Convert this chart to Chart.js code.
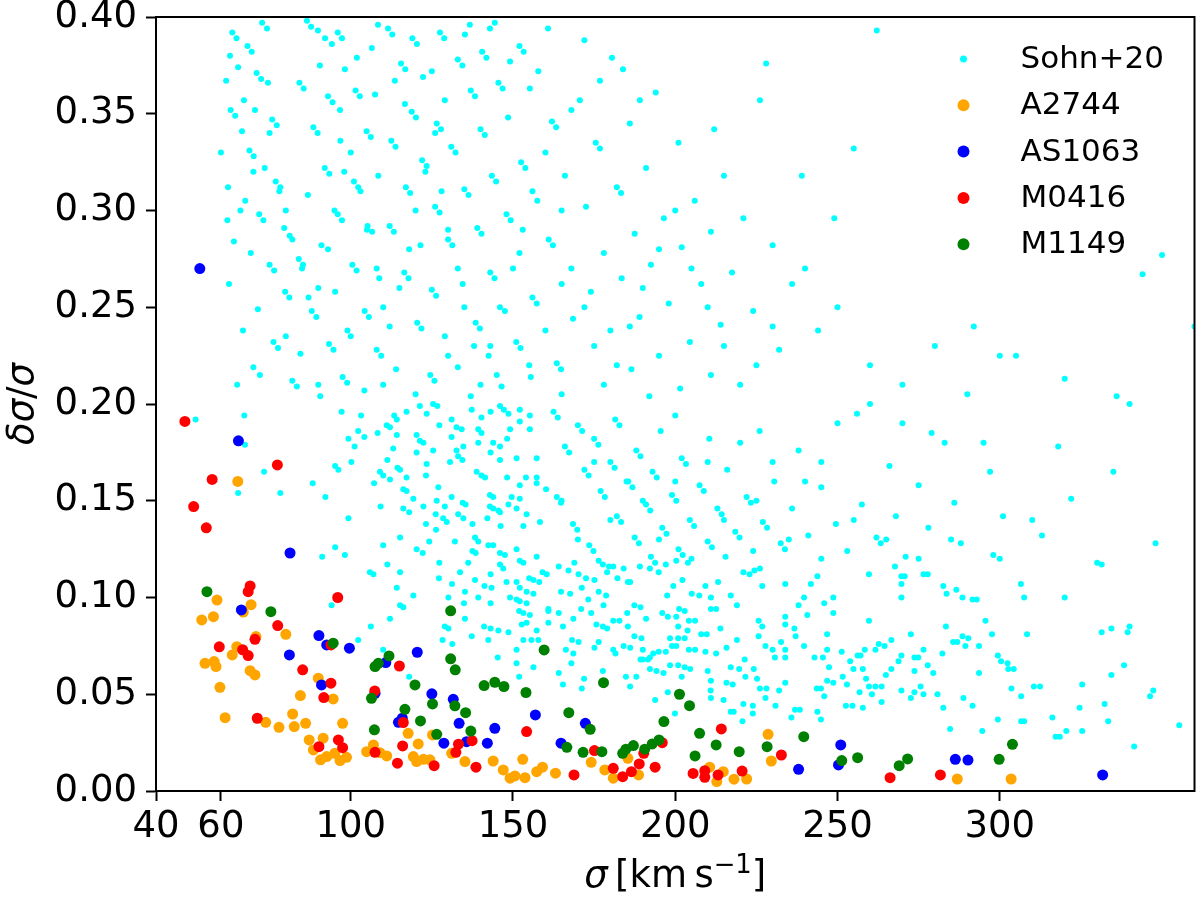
<!DOCTYPE html>
<html>
<head>
<meta charset="utf-8">
<script src="https://cdn.jsdelivr.net/npm/chart.js@4.4.1/dist/chart.umd.min.js"></script>
<style>
  html, body { margin: 0; padding: 0; background: #fff; }
  #wrap { width: 1200px; height: 901px; }
</style>
</head>
<body>
<div id="wrap"><canvas id="chart" width="1200" height="901"></canvas></div>
<script>
// x tick labels and axis range
const xTicks = [40, 60, 100, 150, 200, 250, 300];
const xRange = [40, 360];
const yRange = [0, 0.4];

// [sigma, dsigma/sigma]
const sohn20 = [
  [52.2,0.192],[67.2,0.194],[67.4,0.179],[97.2,0.196],[103.2,0.194],[108.3,0.185],[102.3,0.186],[99.3,0.182],
  [101.2,0.178],[104.2,0.183],[111.1,0.189],[113.4,0.194],[114.2,0.192],[112.1,0.188],[117.2,0.196],[121.3,0.199],
  [123.4,0.195],[125.4,0.200],[126.7,0.199],[127.3,0.189],[131.1,0.192],[132.6,0.188],[134.2,0.187],[137.3,0.197],
  [140.3,0.193],[143.1,0.196],[146.0,0.199],[147.2,0.197],[148.6,0.195],[152.1,0.197],[155.2,0.194],[152.1,0.191],
  [139.3,0.187],[140.3,0.185],[114.2,0.184],[120.3,0.184],[121.3,0.181],[122.4,0.180],[125.4,0.176],[120.3,0.175],
  [113.1,0.177],[111.3,0.171],[109.0,0.165],[110.0,0.163],[112.1,0.161],[114.4,0.167],[115.2,0.166],[117.2,0.162],
  [123.4,0.169],[131.1,0.183],[132.6,0.176],[134.7,0.178],[130.6,0.170],[133.1,0.173],[134.4,0.171],[139.3,0.180],
  [143.9,0.180],[146.0,0.178],[148.2,0.182],[149.1,0.187],[155.2,0.187],[143.1,0.175],[146.0,0.171],[151.1,0.172],
  [157.3,0.172],[95.2,0.168],[96.2,0.166],[100.2,0.170],[107.2,0.159],[116.2,0.156],[117.2,0.155],[119.3,0.151],
  [73.3,0.165],[78.3,0.154],[65.3,0.154],[88.3,0.159],[92.2,0.152],[99.3,0.141],[109.2,0.147],[116.2,0.146],
  [118.0,0.144],[122.4,0.147],[126.5,0.150],[129.0,0.147],[131.1,0.152],[123.2,0.163],[127.0,0.157],[134.5,0.149],
  [135.4,0.148],[138.8,0.165],[140.3,0.163],[141.4,0.162],[148.2,0.162],[152.1,0.158],[154.0,0.162],[157.3,0.162],
  [160.2,0.156],[157.3,0.159],[142.9,0.153],[143.9,0.152],[149.6,0.152],[152.1,0.151],[148.6,0.148],[151.1,0.146],
  [154.2,0.143],[142.9,0.147],[143.9,0.146],[145.5,0.145],[146.0,0.144],[126.2,0.143],[128.5,0.141],[129.6,0.139],
  [133.1,0.143],[134.7,0.141],[123.2,0.138],[126.3,0.135],[137.5,0.138],[142.1,0.141],[146.2,0.137],[153.2,0.137],
  [158.3,0.139],[115.2,0.131],[120.3,0.125],[122.2,0.123],[124.2,0.129],[132.1,0.129],[138.3,0.131],[139.3,0.129],
  [142.4,0.127],[110.0,0.127],[95.2,0.126],[98.2,0.122],[91.2,0.121],[105.9,0.113],[107.0,0.112],[111.3,0.117],
  [115.2,0.113],[114.2,0.105],[119.3,0.101],[137.5,0.124],[138.5,0.123],[143.9,0.127],[146.0,0.123],[147.5,0.122],
  [151.1,0.125],[152.1,0.119],[153.2,0.118],[136.2,0.118],[146.0,0.117],[147.0,0.115],[143.1,0.112],[148.0,0.108],
  [151.1,0.108],[127.3,0.118],[127.2,0.110],[131.2,0.107],[133.7,0.113],[135.2,0.103],[138.3,0.109],[141.2,0.106],
  [143.4,0.105],[155.0,0.110],[156.3,0.109],[158.1,0.108],[159.1,0.113],[160.4,0.112],[157.3,0.121],[152.1,0.105],
  [154.2,0.103],[156.3,0.102],[115.2,0.096],[116.2,0.095],[112.1,0.089],[106.2,0.085],[102.3,0.078],[94.1,0.096],
  [130.1,0.100],[134.9,0.097],[135.2,0.089],[139.3,0.100],[143.1,0.097],[149.1,0.100],[151.1,0.099],[152.1,0.098],
  [154.2,0.097],[160.9,0.093],[151.9,0.093],[153.2,0.092],[155.2,0.091],[129.0,0.085],[130.1,0.084],[128.3,0.078],
  [131.3,0.076],[137.3,0.080],[141.1,0.085],[143.1,0.084],[145.5,0.083],[148.6,0.082],[142.4,0.078],[152.7,0.086],
  [154.2,0.087],[157.3,0.083],[160.9,0.087],[153.2,0.078],[155.7,0.078],[157.8,0.078],[151.1,0.073],[145.3,0.069],
  [151.1,0.066],[156.3,0.064],[110.0,0.073],[118.0,0.059],[151.9,0.059],
  [164.1,0.116],[167.1,0.114],[168.9,0.118],[170.2,0.112],[172.5,0.110],[175.1,0.109],[176.4,0.119],[177.7,0.117],
  [179.6,0.116],[180.9,0.116],[179.0,0.113],[182.2,0.110],[184.1,0.115],[185.4,0.108],[186.1,0.108],[189.1,0.116],
  [192.2,0.115],[193.8,0.118],[194.9,0.113],[197.1,0.117],[200.3,0.119],[203.9,0.118],[164.8,0.103],[167.6,0.102],
  [171.2,0.105],[173.2,0.099],[176.4,0.103],[178.7,0.101],[171.0,0.094],[174.1,0.092],[177.9,0.096],[180.9,0.088],
  [182.8,0.088],[185.2,0.092],[187.4,0.096],[189.3,0.095],[160.9,0.094],[164.1,0.092],[165.4,0.085],[168.6,0.089],
  [175.7,0.086],[177.7,0.085],[179.0,0.084],[185.4,0.085],[187.4,0.080],[189.6,0.079],[191.0,0.089],[196.0,0.092],
  [197.7,0.090],[200.3,0.090],[201.2,0.094],[202.9,0.093],[197.5,0.101],[199.4,0.106],[202.2,0.109],[205.1,0.102],
  [207.4,0.101],[209.3,0.106],[211.0,0.100],[213.2,0.108],[211.0,0.094],[212.6,0.094],[213.9,0.084],[217.1,0.101],
  [219.0,0.096],[204.2,0.088],[206.1,0.088],[200.9,0.085],[203.8,0.083],[198.4,0.079],[200.9,0.079],[202.9,0.079],
  [208.0,0.081],[209.7,0.081],[189.3,0.068],[191.6,0.068],[194.9,0.072],[197.1,0.072],[199.0,0.075],[200.3,0.075],
  [204.2,0.073],[206.1,0.073],[209.3,0.072],[212.6,0.071],[215.8,0.074],[219.0,0.078],[192.2,0.063],[194.2,0.062],
  [196.4,0.061],[198.4,0.065],[200.9,0.065],[202.9,0.064],[204.6,0.063],[202.0,0.059],[210.0,0.062],[211.0,0.057],
  [210.9,0.052],[211.0,0.048],[214.9,0.047],[215.8,0.056],[217.7,0.055],[217.1,0.064],[219.7,0.063],[221.4,0.068],
  [224.2,0.063],[221.6,0.059],[225.2,0.058],[226.1,0.053],[228.1,0.053],[221.0,0.045],[223.9,0.044],[220.7,0.036],
  [223.9,0.040],[227.8,0.048],[217.1,0.041],[218.0,0.041],[184.1,0.075],[186.1,0.074],[190.0,0.073],[193.2,0.071],
  [176.4,0.077],[175.1,0.074],[181.6,0.071],[180.9,0.073],[168.2,0.078],[170.2,0.077],[166.3,0.073],[168.6,0.071],
  [164.1,0.061],[165.4,0.055],[168.0,0.066],[171.2,0.053],[171.9,0.058],[177.7,0.062],[184.8,0.059],[186.1,0.054],
  [188.0,0.059],[190.0,0.068],[192.2,0.069],[193.8,0.047],[197.7,0.051],[199.9,0.040],[225.7,0.088],[226.8,0.085],
  [230.0,0.073],[232.6,0.077],[233.9,0.073],[233.9,0.069],[230.7,0.069],[221.0,0.113],[222.9,0.112],[224.4,0.114],
  [226.1,0.115],[226.8,0.106],[225.7,0.080],[227.8,0.075],[233.9,0.107],[233.9,0.090],[233.9,0.086],[236.7,0.084],
  [237.1,0.080],[238.0,0.096],[239.7,0.100],[240.7,0.091],[241.8,0.107],[243.8,0.111],[239.7,0.075],[242.9,0.069],
  [245.5,0.069],[246.8,0.081],[246.8,0.073],[248.7,0.100],[248.7,0.092],[245.9,0.097],[247.4,0.064],[233.9,0.056],
  [232.0,0.052],[230.9,0.044],[236.9,0.042],[238.4,0.042],[235.8,0.038],[243.8,0.041],[244.9,0.037],[243.6,0.053],
  [244.9,0.053],[245.9,0.049],[246.8,0.057],[248.7,0.056],[251.3,0.072],[253.9,0.067],[254.9,0.063],[256.2,0.070],
  [257.1,0.070],[258.4,0.073],[261.7,0.073],[262.7,0.076],[264.5,0.075],[266.6,0.078],[251.6,0.059],[252.9,0.055],
  [257.8,0.063],[258.8,0.058],[259.7,0.054],[261.7,0.054],[263.6,0.054],[264.9,0.060],[266.6,0.063],[268.8,0.067],
  [269.7,0.070],[252.6,0.044],[254.6,0.044],[257.8,0.043],[256.8,0.051],[260.6,0.050],[263.6,0.046],[259.7,0.112],
  [259.7,0.088],[267.7,0.116],[269.7,0.111],[269.7,0.107],[269.7,0.100],[270.7,0.111],[276.5,0.112],[277.8,0.112],
  [282.6,0.106],[283.6,0.102],[286.6,0.104],[288.5,0.100],[291.6,0.099],[292.9,0.099],[269.7,0.052],[272.6,0.081],
  [272.6,0.048],[273.7,0.069],[273.7,0.062],[273.7,0.051],[274.9,0.069],[275.6,0.054],[276.5,0.073],[276.5,0.050],
  [277.8,0.065],[279.5,0.061],[280.8,0.050],[282.6,0.043],[282.3,0.071],[283.4,0.085],[285.6,0.077],[286.9,0.077],
  [288.5,0.080],[289.4,0.075],[290.3,0.079],[288.8,0.048],[291.6,0.044],[293.6,0.075],[293.6,0.061],[295.6,0.088],
  [297.6,0.081],[284.7,0.032],[294.6,0.031],[299.4,0.037],[299.4,0.070],[300.4,0.067],[302.4,0.066],[302.6,0.063],
  [304.3,0.063],[303.6,0.053],[306.6,0.049],[306.5,0.107],[307.5,0.100],[308.4,0.081],[306.6,0.036],[307.5,0.036],
  [310.5,0.054],[312.4,0.054],[316.2,0.038],[317.2,0.028],[318.5,0.028],[320.5,0.031],[324.6,0.043],[325.4,0.055],
  [325.4,0.031],[331.4,0.117],[331.4,0.082],[332.3,0.045],[333.4,0.036],[334.4,0.084],[334.4,0.060],[338.3,0.065],
  [339.4,0.082],[341.4,0.023],[346.3,0.049],[347.3,0.052],[355.3,0.034],
  // upper part, sigma < 110
  [72.7,0.397],[74.2,0.394],[62.8,0.380],[65.3,0.374],[61.6,0.367],[74.5,0.366],[67.1,0.357],[70.5,0.352],
  [89.9,0.393],[92.1,0.389],[94.2,0.386],[90.5,0.375],[98.2,0.373],[101.9,0.379],[108.4,0.396],[106.5,0.384],
  [107.5,0.360],[96.7,0.352],[60,0.33],[62,0.295],[66,0.30],[70,0.32],[75,0.34],[78,0.31],[80,0.30],[82,0.285],
  [85,0.27],[87,0.255],[90,0.26],[93,0.28],[95,0.30],[98,0.32],[100,0.33],[103,0.31],[105,0.29],[108,0.27],
  [65,0.21],[72,0.215],[80,0.235],[90,0.21],[100,0.235],
  [63.5,0.392],[64.8,0.389],[68.2,0.385],[69.5,0.382],[71.0,0.371],[72.4,0.368],[63.0,0.352],[64.4,0.349],
  [66.5,0.341],[75.8,0.347],[77.2,0.344],[68.8,0.331],[70.1,0.328],[73.5,0.322],[62.2,0.312],[76.9,0.315],
  [78.3,0.312],[67.5,0.305],[71.8,0.298],[73.1,0.295],[64.0,0.284],[79.5,0.291],[81.2,0.287],[69.2,0.278],
  [75.0,0.272],[76.4,0.269],[84.0,0.275],[85.3,0.272],[62.5,0.262],[79.8,0.258],[81.1,0.255],[71.4,0.249],
  [88.0,0.248],[89.4,0.245],[66.8,0.238],[76.2,0.232],[77.6,0.229],[84.5,0.226],[93.3,0.231],[94.7,0.228],
  [70.0,0.219],[82.0,0.212],[83.4,0.209],[97.5,0.214],[98.9,0.211],[90.6,0.204],[104.2,0.207],
  [86.5,0.398],[87.8,0.395],[96.0,0.392],[97.3,0.389],[84.2,0.366],[85.5,0.363],[93.0,0.359],[94.4,0.356],
  [101.5,0.362],[102.8,0.359],[88.5,0.343],[89.8,0.340],[96.8,0.336],[104.9,0.341],[106.2,0.338],[92.0,0.322],
  [93.4,0.319],[101.0,0.315],[102.3,0.312],[86.8,0.308],[108.5,0.318],[96.0,0.298],[97.3,0.295],[105.2,0.292],
  [106.6,0.289],[91.0,0.282],[100.5,0.272],[101.8,0.269],[108.8,0.265],[95.2,0.258],[104.3,0.248],[105.6,0.245],
  [99.0,0.238],[108.0,0.228],[109.4,0.225],
  // upper part, sigma 110-170
  [113.6,0.367],[116.7,0.355],[125.0,0.372],[129.0,0.357],[135.2,0.391],[136.7,0.396],[142.9,0.394],[144.4,0.397],
  [149.1,0.377],[160.8,0.394],[155.2,0.363],[110,0.25],[112,0.24],[115,0.26],[118,0.28],[120,0.30],[123,0.32],
  [126,0.34],[128,0.31],[130,0.29],[133,0.27],[135,0.25],[138,0.23],[140,0.21],[143,0.23],[146,0.25],[150,0.27],
  [153,0.29],[156,0.31],[160,0.33],[165,0.30],[168,0.27],[110,0.21],[120,0.205],[130,0.225],[145,0.215],[155,0.22],
  [165,0.205],
  [111.5,0.394],[112.8,0.391],[119.0,0.389],[120.4,0.386],[127.5,0.392],[128.8,0.389],[115.5,0.376],[116.8,0.373],
  [122.3,0.369],[133.0,0.378],[134.4,0.375],[140.5,0.382],[141.8,0.379],[118.8,0.351],[120.1,0.348],[126.5,0.345],
  [127.8,0.342],[137.0,0.362],[138.3,0.359],[145.5,0.366],[146.8,0.363],[152.0,0.385],[153.3,0.382],[112.5,0.336],
  [113.8,0.333],[122.0,0.326],[123.4,0.323],[131.0,0.333],[132.3,0.330],[140.0,0.342],[141.3,0.339],[148.5,0.348],
  [157.8,0.372],[117.0,0.312],[118.3,0.309],[126.0,0.302],[127.4,0.299],[135.0,0.311],[136.3,0.308],[143.5,0.318],
  [144.8,0.315],[152.5,0.325],[153.8,0.322],[162.0,0.346],[163.3,0.343],[112.0,0.292],[113.3,0.289],[121.5,0.282],
  [130.0,0.285],[131.3,0.282],[139.0,0.291],[140.3,0.288],[148.0,0.298],[149.3,0.295],[157.5,0.305],[166.0,0.318],
  [116.5,0.268],[117.8,0.265],[125.0,0.259],[126.3,0.256],[134.5,0.262],[143.0,0.268],[144.3,0.265],[152.0,0.278],
  [161.0,0.285],[162.3,0.282],[120.5,0.242],[121.8,0.239],[129.0,0.235],[138.5,0.242],[139.8,0.239],[147.5,0.248],
  [156.0,0.255],[157.3,0.252],[165.0,0.262],[114.0,0.218],[124.5,0.215],[125.8,0.212],[133.0,0.219],[142.5,0.225],
  [151.0,0.232],[152.3,0.229],[160.0,0.238],[168.5,0.244],[137.0,0.204],[146.5,0.209],[155.5,0.214],[163.5,0.221],
  [164.8,0.218],
  // upper part, sigma > 170
  [170.6,0.357],[176.8,0.367],[183.9,0.373],[189.1,0.357],[226.1,0.357],[262.1,0.393],[172,0.25],[175,0.23],
  [178,0.21],[182,0.22],[186,0.24],[190,0.26],[195,0.28],[200,0.30],[205,0.27],[210,0.25],[215,0.23],[220,0.21],
  [225,0.22],[230,0.24],[240,0.27],[250,0.25],[260,0.22],[270,0.21],[280,0.23],[300,0.225],
  [172.0,0.388],[180.5,0.379],[168.0,0.352],[175.5,0.335],[176.8,0.332],[186.0,0.345],[194.0,0.361],[172.5,0.302],
  [182.0,0.312],[183.3,0.309],[191.0,0.322],[201.0,0.335],[178.0,0.278],[187.5,0.288],[196.5,0.296],[206.0,0.305],
  [215.0,0.318],[174.0,0.258],[183.5,0.265],[192.5,0.272],[202.0,0.281],[211.0,0.289],[221.0,0.296],[180.0,0.238],
  [189.0,0.245],[198.0,0.252],[208.0,0.262],[217.5,0.268],[230.0,0.282],[186.5,0.218],[195.0,0.225],[204.5,0.232],
  [214.0,0.241],[224.0,0.248],[236.0,0.262],[192.0,0.204],[201.5,0.208],[211.0,0.215],[232.0,0.228],[244.0,0.238],
  [239.0,0.318],[212.0,0.342],[249.0,0.296],[228.0,0.376],[255.0,0.332],
  // middle band, sigma 160-250
  [270,0.19],[260,0.2],[250,0.19],[245,0.17],[240,0.16],[230,0.17],[220,0.18],[210,0.17],[200,0.16],[190,0.15],
  [180,0.14],[170,0.13],[165,0.15],[175,0.17],[185,0.16],[195,0.13],[205,0.12],[215,0.14],[225,0.15],[235,0.13],
  [245,0.12],
  [162.5,0.196],[163.8,0.193],[170.0,0.189],[171.3,0.186],[166.0,0.178],[167.3,0.175],[175.0,0.182],[176.3,0.179],
  [181.5,0.192],[182.8,0.189],[172.0,0.166],[173.3,0.163],[180.0,0.170],[181.3,0.167],[188.0,0.176],[189.3,0.173],
  [195.5,0.186],[163.5,0.152],[164.8,0.149],[177.0,0.155],[178.3,0.152],[185.5,0.160],[186.8,0.157],[193.0,0.165],
  [194.3,0.162],[202.0,0.172],[203.3,0.169],[210.5,0.182],[168.5,0.138],[169.8,0.135],[182.0,0.142],[183.3,0.139],
  [191.0,0.148],[192.3,0.145],[199.0,0.153],[200.3,0.150],[207.5,0.158],[208.8,0.155],[216.0,0.166],[173.5,0.127],
  [174.8,0.124],[187.5,0.131],[188.8,0.128],[196.0,0.136],[197.3,0.133],[204.5,0.140],[205.8,0.137],[213.0,0.146],
  [214.3,0.143],[222.0,0.152],[223.3,0.149],[230.5,0.160],[192.5,0.121],[201.0,0.125],[202.3,0.122],[210.0,0.129],
  [211.3,0.126],[218.5,0.134],[219.8,0.131],[227.0,0.139],[228.3,0.136],[236.0,0.146],[215.5,0.121],[224.0,0.124],
  [232.5,0.128],[233.8,0.125],[241.0,0.132],[249.5,0.138],[238.0,0.176],[226.0,0.186],[245.0,0.157],[200.0,0.194],
  // right side, sigma > 250
  [360,0.24],[350,0.277],[344,0.267],[340,0.2],[335,0.165],[305,0.225],[292,0.24],[290,0.205],[295,0.18],[297,0.165],
  [320,0.213],[283,0.18],[255,0.14],[265,0.13],[275,0.12],[285,0.13],[300,0.12],[310,0.14],[320,0.1],[330,0.118],
  [340,0.085],
  [253.0,0.124],[262.0,0.131],[263.3,0.128],[271.0,0.121],[257.5,0.148],[268.0,0.142],[278.0,0.136],[288.0,0.128],
  [298.0,0.122],[266.0,0.168],[275.0,0.158],[286.0,0.149],[256.0,0.195],[279.0,0.185],[301.0,0.142],[313.0,0.132],
  [322.0,0.151],[348.0,0.128],[336.0,0.204],[318.0,0.178]
];

const a2744 = [
  [65.2,0.160],[58.8,0.0987],[69.3,0.0963],[66.9,0.0925],[54.1,0.0884],[57.7,0.0901],[70.8,0.0798],[80.0,0.0810],
  [64.9,0.0746],[63.5,0.0703],[55.1,0.0660],[57.9,0.0669],[58.5,0.0643],[69.0,0.0622],[70.5,0.0600],[59.7,0.0536],
  [90.0,0.0583],[94.6,0.0476],[84.5,0.0493],[61.3,0.0379],[82.1,0.0398],[73.8,0.0355],[77.9,0.0329],[82.6,0.0333],
  [86.1,0.0350],[97.5,0.0350],[87.2,0.0264],[91.5,0.0273],[88.5,0.0212],[90.7,0.0161],[92.6,0.0178],[95.1,0.0195],
  [96.7,0.0157],[98.7,0.0174],[104.9,0.0203],[107.0,0.0238],[109.0,0.0198],[111.1,0.0181],[117.7,0.0298],[120.8,0.0243],
  [119.3,0.0178],[120.3,0.0152],[122.4,0.0164],[124.4,0.0161],[125.2,0.0290],[131.1,0.0195],[135.2,0.0152],[143.9,0.0155],
  [147.0,0.0109],[149.1,0.0066],[150.6,0.0078],[153.7,0.0069],[153.0,0.0164],[157.3,0.0100],[159.1,0.0123],[163.1,0.0092],
  [174.1,0.0148],[178.3,0.0109],[180.9,0.0066],[185.4,0.0169],[188.7,0.0083],[210.6,0.0123],[214.8,0.0100],[212.8,0.0049],
  [218.1,0.0061],[222.0,0.0062],[228.6,0.0293],[229.6,0.0155],[286.9,0.0062],[303.5,0.0062]
];

const as1063 = [
  [53.5,0.270],[65.4,0.181],[66.3,0.0936],[81.3,0.123],[90.2,0.0803],[92.6,0.0755],[99.6,0.0738],[81.1,0.0703],
  [91.0,0.0548],[107.5,0.0505],[110.8,0.0664],[120.5,0.0717],[125.0,0.0502],[131.6,0.0474],[133.4,0.0350],[115.9,0.0376],
  [114.7,0.0355],[128.7,0.0247],[135.7,0.0255],[142.1,0.0247],[144.4,0.0324],[156.9,0.0393],[172.3,0.0350],[164.8,0.0247],
  [238.0,0.0112],[251.0,0.0238],[250.3,0.0135],[286.3,0.0164],[290.2,0.0160],[331.7,0.0083]
];

const m0416 = [
  [48.9,0.191],[77.4,0.1685],[57.3,0.161],[51.6,0.147],[55.5,0.136],[96.0,0.100],[69.0,0.106],[68.4,0.103],
  [77.5,0.0855],[70.5,0.0784],[59.5,0.0745],[66.7,0.073],[68.4,0.070],[93.9,0.0755],[85.2,0.0626],[93.9,0.0557],
  [91.7,0.0483],[115.0,0.0646],[107.4,0.0517],[71.2,0.0376],[90.2,0.0229],[96.2,0.0264],[97.5,0.0224],[107.5,0.0200],
  [116.2,0.0354],[116.0,0.0233],[114.4,0.0144],[125.7,0.0131],[133.2,0.0242],[132.4,0.0200],[137.4,0.0260],[138.6,0.0123],
  [154.2,0.0307],[214.2,0.0321],[175.1,0.0209],[196.0,0.0250],[190.3,0.0195],[188.9,0.0140],[186.5,0.0100],[183.8,0.0074],
  [180.9,0.0117],[193.8,0.0123],[168.8,0.0083],[232.7,0.0186],[205.5,0.0091],[209.1,0.0105],[209.1,0.0071],[213.2,0.0083],
  [220.6,0.0103],[266.2,0.0069],[281.7,0.0083]
];

const m1149 = [
  [55.7,0.103],[75.4,0.0927],[94.6,0.0764],[107.5,0.0643],[108.5,0.066],[111.8,0.0698],[130.8,0.0931],[130.8,0.0683],
  [132.2,0.0626],[119.8,0.0548],[106.4,0.0479],[116.7,0.0422],[125.2,0.0450],[121.5,0.0362],[107.3,0.0316],[132.1,0.0440],
  [135.4,0.0405],[126.5,0.0293],[137.0,0.0310],[141.1,0.0545],[144.4,0.0562],[147.2,0.0540],[154.0,0.0509],[159.6,0.0729],
  [177.9,0.0560],[167.2,0.0405],[173.8,0.0319],[201.3,0.0500],[204.4,0.0441],[196.5,0.0359],[207.5,0.0298],[212.6,0.0238],
  [219.7,0.0203],[206.1,0.0181],[228.3,0.0229],[239.6,0.0281],[166.6,0.0226],[171.6,0.0200],[177.4,0.0203],[183.8,0.0195],
  [184.8,0.0216],[187.1,0.0235],[190.6,0.0216],[192.9,0.0243],[195.0,0.0264],[251.3,0.0157],[256.2,0.0172],[269.0,0.0131],
  [271.6,0.0166],[299.8,0.0164],[303.9,0.0241]
];

const FONT = '"DejaVu Sans", "Liberation Sans", sans-serif';

function toPoints(arr) {
  return arr.map(p => ({ x: p[0], y: p[1] }));
}

function series(label, arr, color, r, order) {
  return {
    label: label,
    data: toPoints(arr),
    backgroundColor: color,
    borderWidth: 0,
    pointRadius: r,
    pointHoverRadius: r,
    order: order,
    clip: 0
  };
}

// box around the plot like matplotlib spines
const framePlugin = {
  id: 'frame',
  afterDatasetsDraw(chart) {
    const a = chart.chartArea;
    const ctx = chart.ctx;
    ctx.save();
    ctx.strokeStyle = '#000';
    ctx.lineWidth = 2;
    ctx.strokeRect(a.left, a.top, a.right - a.left, a.bottom - a.top);
    ctx.restore();
  }
};

// legend in the upper right, no frame
const legendPlugin = {
  id: 'cornerLegend',
  afterDraw(chart) {
    const a = chart.chartArea;
    const ctx = chart.ctx;
    ctx.save();
    ctx.font = '31px ' + FONT;
    ctx.textBaseline = 'middle';
    ctx.fillStyle = '#000';
    chart.data.datasets.forEach((ds, i) => {
      const y = a.top + 42 + i * 46.3;
      ctx.beginPath();
      ctx.arc(a.right - 231, y, ds.pointRadius + 0.5, 0, Math.PI * 2);
      ctx.fillStyle = ds.backgroundColor;
      ctx.fill();
      ctx.fillStyle = '#000';
      ctx.fillText(ds.label, a.right - 174, y + 1);
    });
    ctx.restore();
  }
};

// axis titles with italic greek letters and a superscript
function drawParts(ctx, parts, x, y, size) {
  let w = 0;
  parts.forEach(p => {
    ctx.font = (p.it ? 'italic ' : '') + (p.sup ? size * 0.7 : size) + 'px ' + FONT;
    p.w = ctx.measureText(p.t).width;
    w += p.w;
  });
  let cx = x - w / 2;
  parts.forEach(p => {
    ctx.font = (p.it ? 'italic ' : '') + (p.sup ? size * 0.7 : size) + 'px ' + FONT;
    ctx.fillText(p.t, cx, p.sup ? y - size * 0.38 : y);
    cx += p.w;
  });
}

const titlePlugin = {
  id: 'axisTitles',
  afterDraw(chart) {
    const a = chart.chartArea;
    const ctx = chart.ctx;
    ctx.save();
    ctx.fillStyle = '#000';
    ctx.textBaseline = 'alphabetic';
    drawParts(ctx, [
      { t: 'σ', it: true },
      { t: '\u2009[km\u2009s' },
      { t: '\u22121', sup: true },
      { t: ']' }
    ], (a.left + a.right) / 2, 887, 37);
    ctx.translate(33, (a.top + a.bottom) / 2);
    ctx.rotate(-Math.PI / 2);
    drawParts(ctx, [
      { t: 'δσ', it: true },
      { t: '/' },
      { t: 'σ', it: true }
    ], 0, 0, 37);
    ctx.restore();
  }
};

const ctx = document.getElementById('chart').getContext('2d');
const chart = new Chart(ctx, {
  type: 'scatter',
  data: {
    datasets: [
      series('Sohn+20', sohn20, '#00ffff', 3, 5),
      series('A2744', a2744, '#ffa500', 5.5, 4),
      series('AS1063', as1063, '#0000ff', 5.5, 3),
      series('M0416', m0416, '#ff0000', 5.5, 2),
      series('M1149', m1149, '#008000', 5.5, 1)
    ]
  },
  options: {
    responsive: false,
    animation: false,
    devicePixelRatio: 1,
    layout: { padding: { top: 17, right: 5, left: 0, bottom: 0 } },
    plugins: {
      legend: { display: false },
      tooltip: { enabled: false }
    },
    scales: {
      x: {
        type: 'linear',
        min: xRange[0],
        max: xRange[1],
        afterBuildTicks: function(scale) {
          scale.ticks = xTicks.map(v => ({ value: v }));
        },
        afterFit: function(scale) {
          scale.height = 110;
          scale.paddingLeft = 0;
          scale.paddingRight = 0;
        },
        grid: { drawOnChartArea: false, drawTicks: true, tickLength: 10, tickWidth: 2, tickColor: '#000' },
        border: { display: true, color: '#000', width: 2 },
        ticks: {
          color: '#000',
          padding: 4,
          maxRotation: 0,
          autoSkip: false,
          font: { family: FONT, size: 37 }
        }
      },
      y: {
        type: 'linear',
        min: yRange[0],
        max: yRange[1],
        afterFit: function(scale) {
          scale.width = 156;
          scale.paddingTop = 0;
          scale.paddingBottom = 0;
        },
        grid: { drawOnChartArea: false, drawTicks: true, tickLength: 10, tickWidth: 2, tickColor: '#000' },
        border: { display: true, color: '#000', width: 2 },
        ticks: {
          color: '#000',
          padding: 9,
          stepSize: 0.05,
          font: { family: FONT, size: 37 },
          callback: function(value) { return value.toFixed(2); }
        }
      }
    }
  },
  plugins: [framePlugin, legendPlugin, titlePlugin]
});
</script>
</body>
</html>
